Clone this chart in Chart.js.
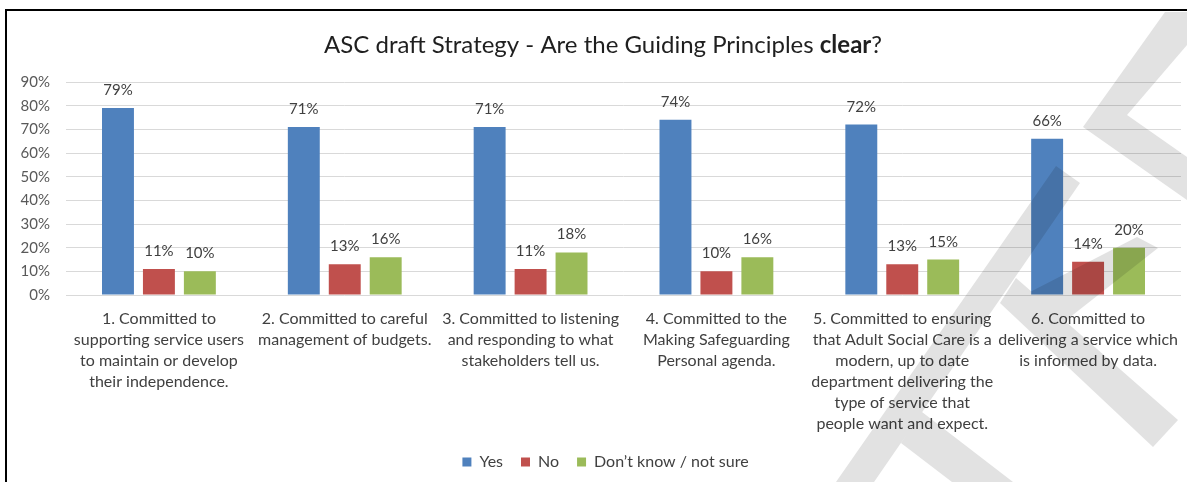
<!DOCTYPE html>
<html>
<head>
<meta charset="utf-8">
<script src="https://cdn.jsdelivr.net/npm/chart.js@4.4.1/dist/chart.umd.min.js"></script>
<style>
  html, body { margin: 0; padding: 0; background: #fff; }
  #wrap { position: relative; width: 1187px; height: 482px; }
</style>
</head>
<body>
<div id="wrap"><canvas id="chart1"></canvas></div>
<script>
const categories = [
  ['1. Committed to', 'supporting service users', 'to maintain or develop', 'their independence.'],
  ['2. Committed to careful', 'management of budgets.'],
  ['3. Committed to listening', 'and responding to what', 'stakeholders tell us.'],
  ['4. Committed to the', 'Making Safeguarding', 'Personal agenda.'],
  ['5. Committed to ensuring', 'that Adult Social Care is a', 'modern, up to date', 'department delivering the', 'type of service that', 'people want and expect.'],
  ['6. Committed to', 'delivering a service which', 'is informed by data.']
];
const yesValues = [79, 71, 71, 74, 72, 66];
const noValues = [11, 13, 11, 10, 13, 14];
const dontKnowValues = [10, 16, 18, 16, 15, 20];
const seriesNames = ['Yes', 'No', 'Don\u2019t know / not sure'];
const seriesColors = ['#4f81bd', '#c0504d', '#9bbb59'];
const yMax = 90;
const yStep = 10;

const FONT = 'Lato, "Open Sans", sans-serif';

// grey "draft" stamp shapes in the lower right
const watermarkShapes = [
  [[1165, 12], [1187, 12], [1187, 45], [1127, 115], [1187, 157], [1187, 200], [1083, 127]],
  [[1056, 166], [1080, 183], [874, 482], [836, 482]],
  [[922, 412], [1013, 482], [952, 482], [901, 443]],
  [[1016, 278], [1178, 420], [1153, 447], [1000, 303]],
  [[1137, 237], [1158, 248], [1060, 325], [1030, 292]]
];

const framePlugin = {
  id: 'frame',
  afterUpdate(chart) {
    // legend sits a little right of the plot centre
    chart.legend.left += 15;
    chart.legend.right += 15;
  },
  beforeDraw(chart) {
    const ctx = chart.ctx;
    ctx.save();
    ctx.fillStyle = '#ffffff';
    ctx.fillRect(0, 0, chart.width, chart.height);
    ctx.strokeStyle = '#000000';
    ctx.lineWidth = 2;
    ctx.beginPath();
    ctx.moveTo(6, chart.height);
    ctx.lineTo(6, 10);
    ctx.lineTo(chart.width, 10);
    ctx.stroke();

    // title with the bold word
    const parts = [
      ['ASC draft Strategy - Are the Guiding Principles ', 'normal'],
      ['clear', 'bold'],
      ['?', 'normal']
    ];
    let total = 0;
    parts.forEach(p => {
      ctx.font = p[1] + ' 24px ' + FONT;
      total += ctx.measureText(p[0]).width;
    });
    let x = 603 - total / 2;
    ctx.fillStyle = '#1f1f1f';
    ctx.textBaseline = 'alphabetic';
    parts.forEach(p => {
      ctx.font = p[1] + ' 24px ' + FONT;
      ctx.fillText(p[0], x, 53);
      x += ctx.measureText(p[0]).width;
    });
    ctx.restore();
  },
  afterDraw(chart) {
    const ctx = chart.ctx;
    ctx.save();
    ctx.globalCompositeOperation = 'multiply';
    ctx.fillStyle = '#e2e2e2';
    ctx.beginPath();
    watermarkShapes.forEach(poly => {
      ctx.moveTo(poly[0][0], poly[0][1]);
      for (let i = 1; i < poly.length; i++) ctx.lineTo(poly[i][0], poly[i][1]);
      ctx.closePath();
    });
    ctx.fill();
    ctx.restore();
  }
};

const valueLabels = {
  id: 'valueLabels',
  afterDatasetsDraw(chart) {
    const ctx = chart.ctx;
    ctx.save();
    ctx.font = '15px ' + FONT;
    ctx.fillStyle = '#404040';
    ctx.textAlign = 'center';
    ctx.textBaseline = 'alphabetic';
    chart.data.datasets.forEach((ds, i) => {
      chart.getDatasetMeta(i).data.forEach((bar, j) => {
        ctx.fillText(ds.data[j] + '%', bar.x, bar.y - 13);
      });
    });
    ctx.restore();
  }
};

const datasets = [yesValues, noValues, dontKnowValues].map((vals, i) => ({
  label: seriesNames[i],
  data: vals,
  backgroundColor: seriesColors[i],
  borderColor: seriesColors[i],
  borderWidth: 0,
  categoryPercentage: 0.661,
  barPercentage: 0.78
}));

const chart1 = new Chart(document.getElementById('chart1'), {
  type: 'bar',
  data: { labels: categories, datasets: datasets },
  plugins: [framePlugin, valueLabels],
  options: {
    responsive: true,
    maintainAspectRatio: false,
    animation: false,
    layout: { padding: { top: 82, right: 6, bottom: 2, left: 0 } },
    plugins: {
      title: { display: false },
      tooltip: { enabled: false },
      legend: {
        position: 'bottom',
        labels: {
          boxWidth: 9,
          boxHeight: 9,
          padding: 18,
          color: '#404040',
          font: { family: FONT, size: 16 }
        }
      }
    },
    scales: {
      x: {
        grid: { display: false },
        border: { display: false },
        ticks: {
          autoSkip: false,
          maxRotation: 0,
          minRotation: 0,
          padding: 5,
          color: '#404040',
          font: { family: FONT, size: 16, lineHeight: 1.3125 }
        },
        afterFit(scale) { scale.height = 141; }
      },
      y: {
        min: 0,
        max: yMax,
        ticks: {
          stepSize: yStep,
          padding: 16,
          color: '#595959',
          font: { family: FONT, size: 15 },
          callback: v => v + '%'
        },
        grid: { color: '#d9d9d9', drawTicks: false },
        border: { display: false },
        afterFit(scale) { scale.width = 66; }
      }
    }
  }
});
</script>
</body>
</html>
